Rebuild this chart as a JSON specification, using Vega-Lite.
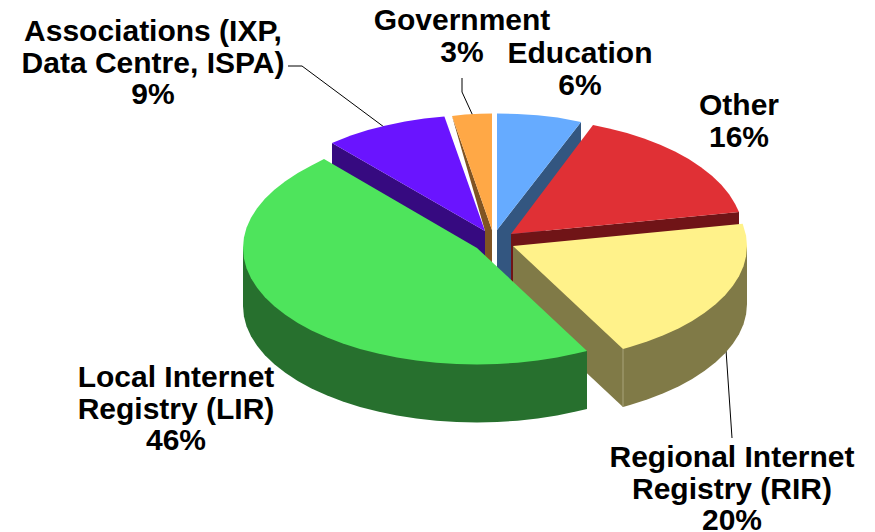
{"$schema":"https://vega.github.io/schema/vega-lite/v6.json","width":875,"height":532,"padding":0,"autosize":{"type":"none"},"background":"white","view":{"stroke":null},
"datasets":{
"leaders":[
{"line":"Associations","n":1,"x":288,"y":66},{"line":"Associations","n":2,"x":302,"y":66},{"line":"Associations","n":3,"x":384,"y":127},
{"line":"Government","n":1,"x":462,"y":78},{"line":"Government","n":2,"x":462,"y":92},{"line":"Government","n":3,"x":473,"y":116},
{"line":"RIR","n":1,"x":726,"y":350},{"line":"RIR","n":2,"x":732,"y":438}
],
"edge":[{"n":1,"x":623,"y":349},{"n":2,"x":623,"y":407}],
"faces":[
{"face":"Associations side","n":1,"x":332,"y":143},{"face":"Associations side","n":2,"x":332,"y":200},{"face":"Associations side","n":3,"x":485,"y":288},{"face":"Associations side","n":4,"x":485,"y":231},
{"face":"Associations top","n":1,"x":485,"y":231},{"face":"Associations top","n":2,"x":332,"y":143},{"face":"Associations top","n":3,"x":350.8,"y":135.6},{"face":"Associations top","n":4,"x":368,"y":130.1},{"face":"Associations top","n":5,"x":386,"y":125.4},{"face":"Associations top","n":6,"x":405,"y":121.5},{"face":"Associations top","n":7,"x":424.4,"y":118.5},{"face":"Associations top","n":8,"x":444.4,"y":116.5},
{"face":"Government side","n":1,"x":452,"y":116},{"face":"Government side","n":2,"x":492,"y":230},{"face":"Government side","n":3,"x":492,"y":268},{"face":"Government side","n":4,"x":485,"y":268},{"face":"Government side","n":5,"x":485,"y":231},
{"face":"Government top","n":1,"x":492,"y":230},{"face":"Government top","n":2,"x":452,"y":116},{"face":"Government top","n":3,"x":465,"y":114.5},{"face":"Government top","n":4,"x":480,"y":113.7},{"face":"Government top","n":5,"x":492,"y":113.5},
{"face":"Education side","n":1,"x":581,"y":122},{"face":"Education side","n":2,"x":581,"y":180},{"face":"Education side","n":3,"x":511,"y":280},{"face":"Education side","n":4,"x":497,"y":287},{"face":"Education side","n":5,"x":497,"y":230},
{"face":"Education top","n":1,"x":497,"y":230},{"face":"Education top","n":2,"x":497,"y":113.5},{"face":"Education top","n":3,"x":517.4,"y":113.9},{"face":"Education top","n":4,"x":537.6,"y":115.3},{"face":"Education top","n":5,"x":557.6,"y":117.5},{"face":"Education top","n":6,"x":581,"y":122},
{"face":"Other side","n":1,"x":511,"y":234},{"face":"Other side","n":2,"x":739,"y":212},{"face":"Other side","n":3,"x":739,"y":270},{"face":"Other side","n":4,"x":511,"y":292},
{"face":"Other top","n":1,"x":511,"y":234},{"face":"Other top","n":2,"x":593,"y":125},{"face":"Other top","n":3,"x":609.1,"y":128.4},{"face":"Other top","n":4,"x":627,"y":133.1},{"face":"Other top","n":5,"x":644,"y":138.6},{"face":"Other top","n":6,"x":660.2,"y":144.8},{"face":"Other top","n":7,"x":675,"y":151.6},{"face":"Other top","n":8,"x":688.7,"y":159.1},{"face":"Other top","n":9,"x":701,"y":167.2},{"face":"Other top","n":10,"x":711.9,"y":175.7},{"face":"Other top","n":11,"x":721.3,"y":184.8},{"face":"Other top","n":12,"x":729.1,"y":194.2},{"face":"Other top","n":13,"x":735,"y":203.8},{"face":"Other top","n":14,"x":739,"y":212},
{"face":"RIR side","n":1,"x":747,"y":246},{"face":"RIR side","n":2,"x":747,"y":304},{"face":"RIR side","n":3,"x":746.1,"y":314.2},{"face":"RIR side","n":4,"x":743.5,"y":324.2},{"face":"RIR side","n":5,"x":739,"y":334.2},{"face":"RIR side","n":6,"x":732.9,"y":343.8},{"face":"RIR side","n":7,"x":725.1,"y":353.2},{"face":"RIR side","n":8,"x":715.6,"y":362.3},{"face":"RIR side","n":9,"x":704.7,"y":370.8},{"face":"RIR side","n":10,"x":692.2,"y":378.9},{"face":"RIR side","n":11,"x":678.5,"y":386.4},{"face":"RIR side","n":12,"x":663.4,"y":393.2},{"face":"RIR side","n":13,"x":647.2,"y":399.4},{"face":"RIR side","n":14,"x":630,"y":404.9},{"face":"RIR side","n":15,"x":623,"y":406.9},{"face":"RIR side","n":16,"x":513,"y":304},{"face":"RIR side","n":17,"x":513,"y":246},
{"face":"RIR top","n":1,"x":513,"y":246},{"face":"RIR top","n":2,"x":742.7,"y":223.8},{"face":"RIR top","n":3,"x":746.1,"y":235.8},{"face":"RIR top","n":4,"x":747,"y":246},{"face":"RIR top","n":5,"x":746.1,"y":256.2},{"face":"RIR top","n":6,"x":743.5,"y":266.2},{"face":"RIR top","n":7,"x":739,"y":276.2},{"face":"RIR top","n":8,"x":732.9,"y":285.8},{"face":"RIR top","n":9,"x":725.1,"y":295.2},{"face":"RIR top","n":10,"x":715.6,"y":304.3},{"face":"RIR top","n":11,"x":704.7,"y":312.8},{"face":"RIR top","n":12,"x":692.2,"y":320.9},{"face":"RIR top","n":13,"x":678.5,"y":328.4},{"face":"RIR top","n":14,"x":663.4,"y":335.2},{"face":"RIR top","n":15,"x":647.2,"y":341.4},{"face":"RIR top","n":16,"x":630,"y":346.9},{"face":"RIR top","n":17,"x":623,"y":348.9},
{"face":"LIR side","n":1,"x":243,"y":248},{"face":"LIR side","n":2,"x":243,"y":306},{"face":"LIR side","n":3,"x":243.9,"y":316.2},{"face":"LIR side","n":4,"x":246.5,"y":326.2},{"face":"LIR side","n":5,"x":251,"y":336.2},{"face":"LIR side","n":6,"x":257.1,"y":345.8},{"face":"LIR side","n":7,"x":264.9,"y":355.2},{"face":"LIR side","n":8,"x":274.4,"y":364.3},{"face":"LIR side","n":9,"x":285.3,"y":372.8},{"face":"LIR side","n":10,"x":297.8,"y":380.9},{"face":"LIR side","n":11,"x":311.5,"y":388.4},{"face":"LIR side","n":12,"x":326.6,"y":395.2},{"face":"LIR side","n":13,"x":342.8,"y":401.4},{"face":"LIR side","n":14,"x":360,"y":406.9},{"face":"LIR side","n":15,"x":378,"y":411.6},{"face":"LIR side","n":16,"x":397,"y":415.5},{"face":"LIR side","n":17,"x":416.4,"y":418.5},{"face":"LIR side","n":18,"x":436.4,"y":420.7},{"face":"LIR side","n":19,"x":456.6,"y":422},{"face":"LIR side","n":20,"x":477,"y":422.5},{"face":"LIR side","n":21,"x":497.4,"y":422},{"face":"LIR side","n":22,"x":517.6,"y":420.7},{"face":"LIR side","n":23,"x":537.6,"y":418.5},{"face":"LIR side","n":24,"x":557,"y":415.5},{"face":"LIR side","n":25,"x":576,"y":411.6},{"face":"LIR side","n":26,"x":587,"y":408.9},{"face":"LIR side","n":27,"x":587,"y":351},
{"face":"LIR top","n":1,"x":477,"y":248},{"face":"LIR top","n":2,"x":587,"y":350.9},{"face":"LIR top","n":3,"x":576,"y":353.6},{"face":"LIR top","n":4,"x":557,"y":357.5},{"face":"LIR top","n":5,"x":537.6,"y":360.5},{"face":"LIR top","n":6,"x":517.6,"y":362.7},{"face":"LIR top","n":7,"x":497.4,"y":364},{"face":"LIR top","n":8,"x":477,"y":364.5},{"face":"LIR top","n":9,"x":456.6,"y":364},{"face":"LIR top","n":10,"x":436.4,"y":362.7},{"face":"LIR top","n":11,"x":416.4,"y":360.5},{"face":"LIR top","n":12,"x":397,"y":357.5},{"face":"LIR top","n":13,"x":378,"y":353.6},{"face":"LIR top","n":14,"x":360,"y":348.9},{"face":"LIR top","n":15,"x":342.8,"y":343.4},{"face":"LIR top","n":16,"x":326.6,"y":337.2},{"face":"LIR top","n":17,"x":311.5,"y":330.4},{"face":"LIR top","n":18,"x":297.8,"y":322.9},{"face":"LIR top","n":19,"x":285.3,"y":314.8},{"face":"LIR top","n":20,"x":274.4,"y":306.3},{"face":"LIR top","n":21,"x":264.9,"y":297.2},{"face":"LIR top","n":22,"x":257.1,"y":287.8},{"face":"LIR top","n":23,"x":251,"y":278.2},{"face":"LIR top","n":24,"x":246.5,"y":268.2},{"face":"LIR top","n":25,"x":243.9,"y":258.2},{"face":"LIR top","n":26,"x":243,"y":248},{"face":"LIR top","n":27,"x":243.9,"y":237.8},{"face":"LIR top","n":28,"x":246.5,"y":227.8},{"face":"LIR top","n":29,"x":251,"y":217.8},{"face":"LIR top","n":30,"x":257.1,"y":208.2},{"face":"LIR top","n":31,"x":264.9,"y":198.8},{"face":"LIR top","n":32,"x":274.4,"y":189.7},{"face":"LIR top","n":33,"x":285.3,"y":181.2},{"face":"LIR top","n":34,"x":297.8,"y":173.1},{"face":"LIR top","n":35,"x":311.5,"y":165.6},{"face":"LIR top","n":36,"x":324,"y":159}
],
"labels":[
{"label":["Associations (IXP,","Data Centre, ISPA)","9%"],"x":153,"y":41},
{"label":["Government","3%"],"x":462,"y":30},
{"label":["Education","6%"],"x":580,"y":63},
{"label":["Other","16%"],"x":739,"y":115},
{"label":["Local Internet","Registry (LIR)","46%"],"x":176,"y":387},
{"label":["Regional Internet","Registry (RIR)","20%"],"x":732,"y":467}
]},
"encoding":{
"x":{"field":"x","type":"quantitative","scale":{"domain":[0,875],"nice":false,"zero":false},"axis":null},
"y":{"field":"y","type":"quantitative","scale":{"domain":[532,0],"nice":false,"zero":false},"axis":null}
},
"layer":[
{"data":{"name":"leaders"},"mark":{"type":"line","stroke":"#000000","strokeWidth":1},"encoding":{"detail":{"field":"line"},"order":{"field":"n"}}},
{"data":{"name":"faces"},"mark":{"type":"line","filled":true,"strokeWidth":0},"encoding":{
"fill":{"field":"face","type":"nominal","legend":null,"sort":null,"scale":{"domain":["Associations side","Associations top","Government side","Government top","Education side","Education top","Other side","Other top","RIR side","RIR top","LIR side","LIR top"],"range":["#360A80","#6A14FF","#805423","#FFA846","#335680","#66ABFF","#701417","#E03035","#807A47","#FFF28A","#27702E","#4EE45C"]}},
"detail":{"field":"face"},"order":{"field":"n"}}},
{"data":{"name":"edge"},"mark":{"type":"line","stroke":"#A8A37A","strokeWidth":1},"encoding":{"order":{"field":"n"}}},
{"data":{"name":"labels"},"mark":{"type":"text","font":"Liberation Sans","fontWeight":"bold","fontSize":30,"lineHeight":31.5,"align":"center","baseline":"alphabetic","color":"#000000"},"encoding":{"text":{"field":"label"}}}
]}
